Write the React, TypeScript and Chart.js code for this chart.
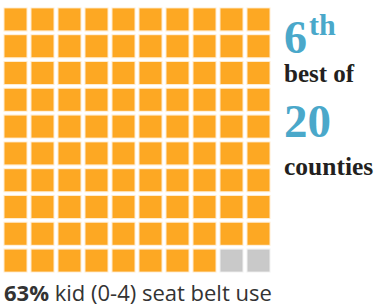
import React, { useEffect, useRef } from "react";
import { Chart, registerables } from "chart.js";

Chart.register(...registerables);

// Waffle data
const GRID_COLUMNS = 10;
const GRID_ROWS = 10;
const FILLED_CELLS = 98;
const FILLED_COLOR = "#FDA823";
const EMPTY_COLOR = "#C9C9C9";

// Text
const RANK = "6";
const RANK_SUFFIX = "th";
const RANK_LABEL = "best of";
const TOTAL_COUNTIES = "20";
const TOTAL_LABEL = "counties";
const VALUE_LABEL = "63%";
const CAPTION = " kid (0-4) seat belt use";

function buildCells(filled: boolean) {
  const pts: { x: number; y: number }[] = [];
  for (let i = 0; i < GRID_COLUMNS * GRID_ROWS; i++) {
    const isFilled = i < FILLED_CELLS;
    if (isFilled !== filled) continue;
    const col = (i % GRID_COLUMNS) + 1;
    const row = GRID_ROWS - Math.floor(i / GRID_COLUMNS);
    pts.push({ x: col, y: row });
  }
  return pts;
}

export default function App() {
  const ref = useRef<HTMLCanvasElement | null>(null);

  useEffect(() => {
    if (!ref.current) return;
    const side = 22;
    const r = side / Math.SQRT2;
    const mk = (filled: boolean, color: string, halo: string) => ({
      data: buildCells(filled),
      pointStyle: "rect" as const,
      pointRadius: r,
      pointHoverRadius: r,
      pointBackgroundColor: color,
      pointBorderColor: halo,
      pointBorderWidth: 2,
      borderWidth: 0,
      showLine: false,
      clip: false as const,
    });
    const chart = new Chart(ref.current, {
      type: "scatter",
      data: {
        datasets: [
          mk(true, FILLED_COLOR, "rgba(253,168,35,0.22)"),
          mk(false, EMPTY_COLOR, "rgba(201,201,201,0.25)"),
        ],
      },
      options: {
        animation: false,
        responsive: false,
        maintainAspectRatio: false,
        layout: { padding: 0, autoPadding: false },
        plugins: { legend: { display: false }, tooltip: { enabled: false } },
        scales: {
          x: { type: "linear", min: 0.5, max: GRID_COLUMNS + 0.5, display: false },
          y: { type: "linear", min: 0.5, max: GRID_ROWS + 0.5, display: false },
        },
      },
    });
    return () => chart.destroy();
  }, []);

  const serif = '"Liberation Serif", "DejaVu Serif", serif';
  const blue = "#4AA8CA";
  const dark = "#231F20";
  const abs = (left: number, top: number, size: number, color: string, weight = 700) => ({
    position: "absolute" as const,
    left,
    top,
    fontFamily: serif,
    fontWeight: weight,
    color,
    fontSize: size,
    lineHeight: `${size}px`,
    whiteSpace: "nowrap" as const,
  });
  return (
    <div
      style={{
        position: "fixed",
        left: 0,
        top: 0,
        width: 377,
        height: 304,
        background: "#fff",
        overflow: "hidden",
      }}
    >
      <canvas
        ref={ref}
        width={270}
        height={268}
        style={{ position: "absolute", left: 1.5, top: 5.5, width: 270, height: 268 }}
      />
      <div style={abs(284, 14.5, 46, blue)}>{RANK}</div>
      <div style={abs(309, 10, 30, blue)}>{RANK_SUFFIX}</div>
      <div style={abs(284, 61, 25, dark)}>{RANK_LABEL}</div>
      <div style={abs(284, 97.5, 47, blue)}>{TOTAL_COUNTIES}</div>
      <div style={abs(284, 153.5, 25.5, dark)}>{TOTAL_LABEL}</div>
      <div
        style={{
          position: "absolute",
          left: 4,
          top: 281,
          fontFamily: '"Open Sans", "Liberation Sans", sans-serif',
          color: "#333",
          fontSize: 22,
          lineHeight: "22px",
          whiteSpace: "nowrap",
        }}
      >
        <b>{VALUE_LABEL}</b>
        {CAPTION}
      </div>
    </div>
  );
}
